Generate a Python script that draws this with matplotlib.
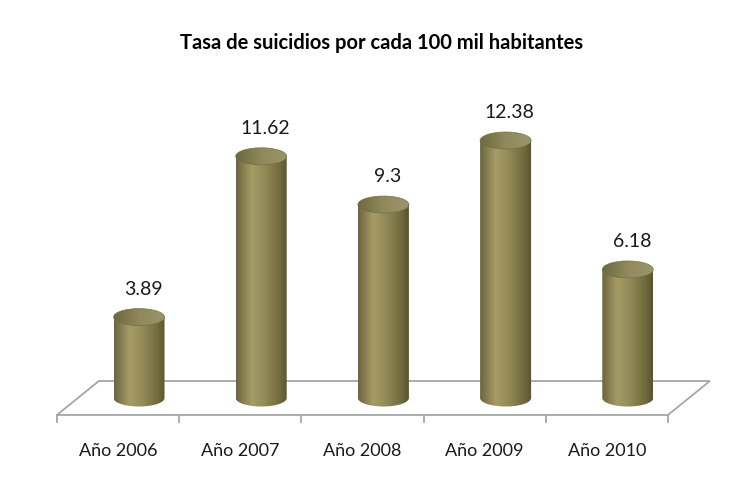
import matplotlib.pyplot as plt
import numpy as np
from matplotlib.patches import Ellipse, Polygon, PathPatch
from matplotlib.path import Path
from matplotlib.colors import LinearSegmentedColormap

# Datos
anios = ['Año 2006', 'Año 2007', 'Año 2008', 'Año 2009', 'Año 2010']
tasas = [3.89, 11.62, 9.3, 12.38, 6.18]
titulo = 'Tasa de suicidios por cada 100 mil habitantes'

plt.rcParams['font.family'] = ['Lato', 'DejaVu Sans']

# colores del cilindro (oliva)
body_cmap = LinearSegmentedColormap.from_list('body', [
    (0.0, '#6b653e'), (0.3, '#a69c66'), (0.55, '#938a59'),
    (0.85, '#706a3c'), (1.0, '#58532f')])
top_cmap = LinearSegmentedColormap.from_list('top', [
    (0.0, '#6e6840'), (0.5, '#8f895c'), (1.0, '#9c966c')])

fig = plt.figure(figsize=(7.46, 4.88), dpi=100)
ax = fig.add_axes([0, 0, 1, 1])
ax.axis('off')

px_x = 122.2   # pixeles por categoria
px_y = 20.8    # pixeles por unidad
prof_x = 42 / px_x   # profundidad del piso
prof_y = 34 / px_y
ancho = 51 / px_x
alto_el = 17 / px_y
n = len(tasas)

# piso
y_front = -prof_y / 2
piso = Polygon([(-0.5, y_front), (n - 0.5, y_front),
                (n - 0.5 + prof_x, y_front + prof_y), (-0.5 + prof_x, y_front + prof_y)],
               closed=True, facecolor='white', edgecolor='#a6a6a6', lw=1.3, zorder=1)
ax.add_patch(piso)
for k in range(n + 1):
    ax.plot([k - 0.5, k - 0.5], [y_front, y_front - 7 / px_y], color='#a6a6a6', lw=1.3, zorder=1)

grad = np.linspace(0, 1, 256).reshape(1, -1)
t = np.linspace(np.pi, 2 * np.pi, 60)
for i, h in enumerate(tasas):
    cx = i + prof_x / 2
    x0, x1 = cx - ancho / 2, cx + ancho / 2
    # cuerpo del cilindro
    verts = [(x0, h), (x1, h)] + [(cx + ancho / 2 * np.cos(a), alto_el / 2 * np.sin(a))
                                   for a in t[::-1]] + [(x0, h)]
    body = PathPatch(Path(verts), facecolor='none', edgecolor='none')
    ax.add_patch(body)
    im = ax.imshow(grad, extent=[x0, x1, -alto_el, h], cmap=body_cmap,
                   aspect='auto', zorder=2, interpolation='bilinear')
    im.set_clip_path(body)
    # tapa
    tapa = Ellipse((cx, h), ancho, alto_el, facecolor='none', edgecolor='none')
    ax.add_patch(tapa)
    im2 = ax.imshow(grad, extent=[x0, x1, h - alto_el, h + alto_el], cmap=top_cmap,
                    aspect='auto', zorder=3, interpolation='bilinear')
    im2.set_clip_path(tapa)
    ax.add_patch(Ellipse((cx, h), ancho, alto_el, facecolor='none',
                         edgecolor='#77713f', lw=0.5, zorder=4))
    # etiqueta de valor
    ax.annotate(f'{h:g}', (cx, h), xytext=(3, 20), textcoords='offset points',
                ha='center', va='center', fontsize=14, color='#1a1a1a')
    # etiqueta de categoria
    ax.annotate(anios[i], (i, y_front), xytext=(0, -26), textcoords='offset points',
                ha='center', va='center', fontsize=13, color='#1a1a1a')

ax.set_xlim(-118 / px_x, (746 - 118) / px_x)
ax.set_ylim((398 - 488) / px_y, 398 / px_y)

fig.text(382 / 746, 1 - 43 / 488, titulo, ha='center', va='center',
         fontsize=14.5, fontweight='bold', color='black')

fig.savefig('out.png', dpi=100)
